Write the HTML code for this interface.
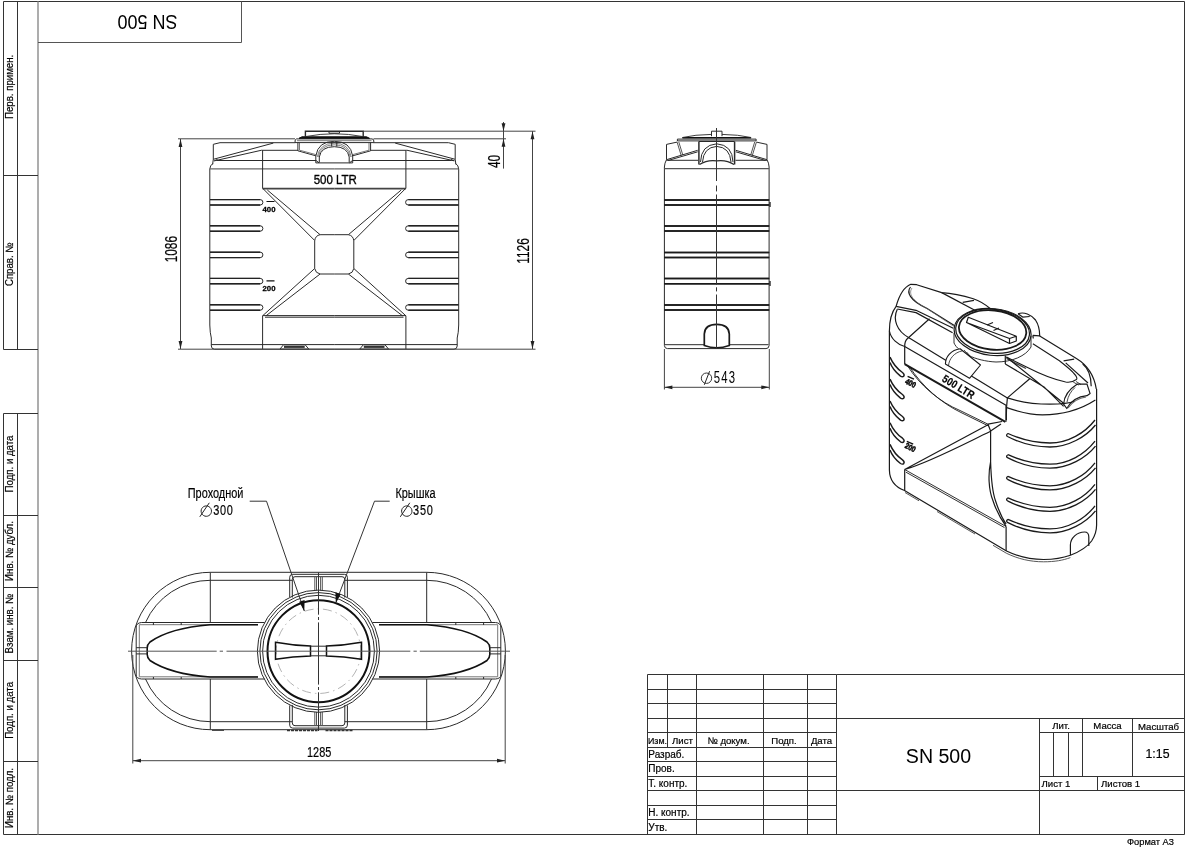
<!DOCTYPE html>
<html><head><meta charset="utf-8">
<style>
html,body{margin:0;padding:0;background:#fff;width:1200px;height:849px;overflow:hidden}
svg{display:block;will-change:transform}
text{font-family:"Liberation Sans",sans-serif;fill:#000;stroke:#000;stroke-width:0.2px}
</style></head><body>
<svg width="1200" height="849" viewBox="0 0 1200 849">
<g id="frame" fill="none" stroke="#333" stroke-width="1">
<path d="M3.5 1.5H1184.5V834.5H3.5"/>
<path d="M38 1.5V834.5" stroke="#999" stroke-width="1.6"/>
<path d="M17.5 1.5V349.5M3.5 175.5H38M3.5 349.5H38"/>
<path d="M17.5 413.5V834.5M3.5 413.5H38M3.5 515.5H38M3.5 587.5H38M3.5 660.5H38M3.5 761.5H38"/>
<path d="M3.5 1.5V349.5M3.5 413.5V834.5" />
<path d="M38 42.5H241.5V1.5" stroke="#555"/>
</g>
<g id="striptext" font-size="10.5">
<text transform="translate(13 119) rotate(-90) scale(0.92 1)">Перв. примен.</text>
<text transform="translate(13 264.2) rotate(-90) scale(0.92 1)" text-anchor="middle">Справ. №</text>
<text transform="translate(13 464) rotate(-90) scale(0.92 1)" text-anchor="middle">Подп. и дата</text>
<text transform="translate(13 551) rotate(-90) scale(0.92 1)" text-anchor="middle">Инв. № дубл.</text>
<text transform="translate(13 623.5) rotate(-90) scale(0.92 1)" text-anchor="middle">Взам. инв. №</text>
<text transform="translate(13 710.4) rotate(-90) scale(0.92 1)" text-anchor="middle">Подп. и дата</text>
<text transform="translate(13 798) rotate(-90) scale(0.92 1)" text-anchor="middle">Инв. № подл.</text>
</g>
<text transform="translate(147.4 21.6) rotate(180) scale(0.9 1)" font-size="20" text-anchor="middle" dominant-baseline="central" style="stroke-width:0">SN 500</text>
<text x="1174" y="845" font-size="9.3" text-anchor="end">Формат А3</text>
<g id="tblock" fill="none" stroke="#333" stroke-width="1"><path d="M647.5 674.5H836.5M647.5 689.5H836.5M647.5 703.5H836.5M647.5 718.5H836.5M647.5 732.5H836.5M647.5 747.5H836.5M647.5 761.5H836.5M647.5 776.5H836.5M647.5 790.5H836.5M647.5 805.5H836.5M647.5 819.5H836.5M836.5 674.5H1184.5M647.5 674.5V834.5M696.5 674.5V834.5M763.5 674.5V834.5M807.5 674.5V834.5M836.5 674.5V834.5M667.5 674.5V747.5M836.5 718.5H1184.5M836.5 790.5H1184.5M1039.5 718.5V834.5M1039.5 732.5H1184.5M1039.5 776.5H1184.5M1082.5 718.5V776.5M1132.5 718.5V776.5M1053.5 732.5V776.5M1068.5 732.5V776.5M1097.5 776.5V790.5"/></g>
<g id="tbtext" font-size="9.6">
<text x="648" y="743.5" textLength="19" lengthAdjust="spacingAndGlyphs">Изм.</text>
<text x="682.5" y="743.5" text-anchor="middle">Лист</text>
<text x="728.5" y="743.5" text-anchor="middle">№ докум.</text>
<text x="784" y="743.5" text-anchor="middle">Подп.</text>
<text x="821.5" y="743.5" text-anchor="middle">Дата</text>
<text x="648.3" y="757.8" font-size="10">Разраб.</text>
<text x="648.3" y="772" font-size="10">Пров.</text>
<text x="648.3" y="786.8" font-size="10">Т. контр.</text>
<text x="648.3" y="816.2" font-size="10">Н. контр.</text>
<text x="648.3" y="830.5" font-size="10">Утв.</text>
<text x="1061" y="729" text-anchor="middle">Лит.</text>
<text x="1107.5" y="729" text-anchor="middle">Масса</text>
<text x="1158.5" y="729.5" text-anchor="middle">Масштаб</text>
<text x="1157.5" y="757.8" font-size="12.3" text-anchor="middle">1:15</text>
<text x="1041.5" y="786.5">Лист 1</text>
<text x="1101" y="787">Листов 1</text>
<text x="938.5" y="763" font-size="19.6" text-anchor="middle" style="stroke-width:0">SN 500</text>
</g>
<!--FRONT--><g id="front" fill="none" stroke="#2a2a2a" stroke-width="1">
 <g id="fhalf">
  <!-- shoulder -->
  <path d="M295 142.7H220L213.3 144.3V159.3L212.6 164.5"/>
  <path d="M213.3 159.3L273.3 143.1M215.5 160.6L261.7 150.2" />
  <path d="M214 161L217.5 159.5" stroke-width="1.3"/>
  <path d="M261.7 150.4H298" stroke="#555" stroke-width="1.4"/>
  <path d="M217 160.5H316"/>
  <path d="M212.8 163.5Q210 165.5 209.8 169V325Q210 333 211.3 338V346Q211.5 349.2 214.5 349.2H334.25"/>
  <path d="M210 168.8H334.25" stroke="#666" stroke-width="1.3"/>
  <!-- ribs -->
  <path d="M210 199.6H260.2A2.7 2.7 0 0 1 260.2 205H210"/>
  <path d="M210 225.8H260.2A2.7 2.7 0 0 1 260.2 231.2H210"/>
  <path d="M210 252.2H260.2A2.7 2.7 0 0 1 260.2 257.6H210"/>
  <path d="M210 278.4H260.2A2.7 2.7 0 0 1 260.2 283.8H210"/>
  <path d="M210 304.8H260.2A2.7 2.7 0 0 1 260.2 310.2H210"/>
  <g stroke-width="1.4" stroke="#222">
  <path d="M210 205H260.2M210 231.2H260.2M210 257.6H260.2M210 283.8H260.2M210 310.2H260.2M210 199.6H260.2M210 225.8H260.2M210 252.2H260.2M210 278.4H260.2M210 304.8H260.2"/>
  </g>
  <!-- label band -->
  <path d="M262.6 150.4V188.3"/>
  <path d="M262.6 188.6H334.25" stroke="#444" stroke-width="1.8"/>
  <!-- diagonals upper -->
  <path d="M262.7 188.3L314.7 240.5M267.3 190L320.1 234.7"/>
  <!-- square -->
  <path d="M320.1 234.7H334.25M314.7 240.5V268.5M320.1 274H334.25M314.7 240.5Q315.5 235.5 320.1 234.7M314.7 268.5Q315.5 273.2 320.1 274"/>
  <!-- diagonals lower -->
  <path d="M314.7 268.5L262.6 315.8M320.1 274L266 315.8"/>
  <!-- bottom rect -->
  <path d="M262.6 315.8V349M262.6 315.6H334.25M265 317.2H334.25"/>
  <path d="M211.3 344.6H334.25"/>
  <!-- foot -->
  <path d="M280 349L283.5 344.8H305.2L308.7 349Z" fill="#fff"/><path d="M284 346.8H304.7" stroke="#333" stroke-width="2.2"/>
  
 </g>
 <use href="#fhalf" transform="matrix(-1 0 0 1 668.5 0)"/>
 <!-- cap box walls -->
 <path d="M297.9 142.5V150.8L315.8 155.8V162.9M370.6 142.5V150.8L352.7 155.8V162.9M315.8 162.9H352.7"/>
 <path d="M299.5 143V150.2L315.8 154.6M369 143V150.2L352.7 154.6" stroke="#777"/>
 <!-- handle arch -->
 <path d="M315.8 156Q318 141.3 334.25 141.3Q350.5 141.3 352.7 156" />
 <path d="M319.3 162.5V157Q321 146.7 334.25 146.7Q347.5 146.7 349.2 157V162.5" />
 <path d="M317.2 157Q319.5 143.2 334.25 143.2Q349 143.2 351.3 157M318.2 157Q320.5 144.8 334.25 144.8Q348 144.8 350.3 157" stroke="#666" stroke-width="0.8"/>
 <path d="M331.7 141.5V146.5M336.8 141.5V146.5"/>
 <path d="M316 160.5L319 162.8M352.5 160.5L349.5 162.8"/>
 <!-- flange -->
 <path d="M296.5 138.9H372Q373.8 139 373.8 141V142.6H295Q294.7 139 296.5 138.9Z" />
 <path d="M297 140.7H371.5" stroke="#777"/>
 <path d="M299 138.3L302 136.8H366.5L369.5 138.3Z" fill="#111" stroke="#111"/>
 <!-- lid -->
 <path d="M305.4 137V131.3H363.2V137" stroke-width="1.4"/>
 <path d="M329 131.3V133.2H339.5V131.3" />
 <path d="M306 136.5Q334.25 131 362.6 136.5" stroke-width="0.9"/>
 <!-- text -->
 <text x="335.3" y="183.9" font-size="13.4" text-anchor="middle" transform="translate(335.3 0) scale(0.86 1) translate(-335.3 0)" style="stroke-width:0.35px">500 LTR</text>
 <path d="M266.5 201.5H274.5M266.5 280.8H274.5" stroke="#111" stroke-width="1.2"/>
 <text x="269" y="211.6" font-size="7.4" font-weight="bold" text-anchor="middle" transform="translate(269 0) scale(1.05 1) translate(-269 0)" style="stroke-width:0.25px">400</text>
 <text x="269" y="291" font-size="7.4" font-weight="bold" text-anchor="middle" transform="translate(269 0) scale(1.05 1) translate(-269 0)" style="stroke-width:0.25px">200</text>
</g>
<g id="fdims" fill="none" stroke="#444" stroke-width="1">
 <path d="M178 138.8H295M373.5 138.8H506M363.5 131.2H535.5M178 349.2H535.5"/>
 <path d="M180.5 139V349M532.5 131.2V349M503.5 122V168.6"/>
 <g fill="#222" stroke="none">
  <path d="M180.5 139L178.6 147H182.4Z"/><path d="M180.5 349L178.6 341H182.4Z"/>
  <path d="M532.5 131.2L530.6 139.2H534.4Z"/><path d="M532.5 349L530.6 341H534.4Z"/>
  <path d="M503.5 131.2L501.6 123.2H505.4Z"/><path d="M503.5 138.8L501.6 146.8H505.4Z"/>
 </g>
</g>
<g id="fdimtext" style="stroke-width:0.1px">
 <text transform="translate(177 249.2) rotate(-90) scale(0.74 1)" font-size="16" text-anchor="middle">1086</text>
 <text transform="translate(528.5 251) rotate(-90) scale(0.74 1)" font-size="16" text-anchor="middle">1126</text>
 <text transform="translate(499.7 161.5) rotate(-90) scale(0.74 1)" font-size="16" text-anchor="middle">40</text>
</g>
<!--/FRONT-->
<!--SIDE--><g id="side" fill="none" stroke="#2a2a2a" stroke-width="1">
 <g id="shalf">
  <path d="M677.1 142.1L666.5 144.4V159.7Q664.6 163 664.4 167V345.5Q664.6 348.6 667.5 348.6H716.75"/>
  <path d="M666.5 159.7L697.7 150.3M668 160.5L697.7 151.8" />
  <path d="M677.1 142.1L681.2 155.5M678.8 142L682.8 155" stroke-width="0.8"/>
  <path d="M666.5 160.3H698"/>
  <path d="M664.4 168.6H716.75" stroke="#555" stroke-width="1.4"/>
  <path d="M698.9 141.6V164.5" stroke-width="1.5"/>
  <path d="M698.9 141.5H716.75"/>
  <path d="M700.5 162Q701 145 716.75 143.8M702.5 162Q703.5 147.3 716.75 146.4"/>
  <path d="M699.5 164.5Q707 159.5 716.75 160.8" stroke-width="1.2"/>
  <path d="M677.4 139.1H716.75M677.4 139.1V141M677.4 140.9H716.75"/>
  <path d="M682.4 137.7H716.75" stroke="#111" stroke-width="1.6"/>
  <path d="M682.4 137.5Q695 134.6 711.5 134.4" stroke-width="0.9"/>
  <path d="M664.4 199.9H769.3M664.4 205H769.3M664.4 225.9H769.3M664.4 231H769.3M664.4 252.4H769.3M664.4 257.5H769.3M664.4 278.6H769.3M664.4 283.7H769.3M664.4 305H769.3M664.4 310.1H769.3" stroke="#1a1a1a" stroke-width="1.5"/>
  <path d="M665 344.7H716.75"/>
 </g>
 <use href="#shalf" transform="matrix(-1 0 0 1 1433.5 0)"/>
 <path d="M711.5 136.2V131.2H722V136.2"/>
 <path d="M704.3 345.5V334Q704.8 324.4 716.75 324.4Q728.7 324.4 729.3 334V345.5Q716.75 350 704.3 345.5Z" stroke="#1a1a1a" stroke-width="1.7" fill="#fff"/>
 <path d="M716.5 128V181M716.5 185.5V191.4M716.5 194.5V284.6M716.5 287.3V291.4M716.5 294.5V349" stroke="#333"/>
 <path d="M770 202V207M770 281V286" stroke-width="1.4"/>
</g>
<g id="sdims" fill="none" stroke="#444" stroke-width="1">
 <path d="M664.4 349V389.5M769.3 349V389.5M664.4 387.3H769.3"/>
 <g fill="#222" stroke="none">
  <path d="M664.4 387.3L672.4 385.4V389.2Z"/><path d="M769.3 387.3L761.3 385.4V389.2Z"/>
 </g>
 <circle cx="706.5" cy="378.2" r="5.2" stroke="#333"/><path d="M704.3 384.8L709.6 371.2" stroke="#222"/>
</g>
<text transform="translate(725 383) scale(0.7 1)" font-size="16.2" text-anchor="middle" letter-spacing="1.6" style="stroke-width:0px">543</text>
<!--/SIDE-->
<!--PLAN--><g id="plan" fill="none" stroke="#2a2a2a" stroke-width="1">
 <!-- outer body -->
 <path d="M210.3 572.3H426.7A78.7 78.7 0 0 1 426.7 729.7H210.3A78.7 78.7 0 0 1 210.3 572.3Z"/>
 <path d="M210.3 580.3H292.3M344.7 580.3H426.7M210.3 721.7H292.3M344.7 721.7H426.7"/>
 <path d="M210.3 580.3A70.7 70.7 0 0 0 145.5 622.5M210.3 721.7A70.7 70.7 0 0 1 145.5 679M426.7 580.3A70.7 70.7 0 0 1 491.5 622.5M426.7 721.7A70.7 70.7 0 0 0 491.5 679"/>
 <path d="M210.3 572.3V622.5M210.3 679V729.7M426.7 572.3V622.5M426.7 679V729.7"/>
 <!-- bar -->
 <path d="M141.5 622.5H264.6M372.4 622.5H495.5M141.5 679H264.6M372.4 679H495.5"/>
 <path d="M141.5 622.5Q136.3 623 136.2 627V675Q136.3 678.5 141.5 679M495.5 622.5Q500.7 623 500.8 627V675Q500.7 678.5 495.5 679"/>
 <path d="M139.3 624.7H258M379 624.7H497.7M139.3 676.8H258M379 676.8H497.7M139.3 624.7V676.8M497.7 624.7V676.8" stroke="#777"/>
 <path d="M153.4 623V625M181.2 623V625M153.4 677V679M181.2 677V679M483.6 623V625M455.8 623V625M483.6 677V679M455.8 677V679"/>
 <!-- lens -->
 <path d="M258 624.8H210Q170 628 150 642Q147.2 644.5 147.2 648V654.5Q147.2 658 150 660.5Q170 674 210 677H258" stroke="#111" stroke-width="1.6"/>
 <path d="M379 624.8H427Q467 628 487 642Q489.8 644.5 489.8 648V654.5Q489.8 658 487 660.5Q467 674 427 677H379" stroke="#111" stroke-width="1.6"/>
 <path d="M136.2 647.7H147.2M136.2 653.9H147.2M489.8 647.7H500.8M489.8 653.9H500.8"/>
 <!-- tabs -->
 <path d="M289.7 597V577.3Q289.7 574.3 292.7 574.3H344.4Q347.4 574.3 347.4 577.3V597M292.3 597.5V579.5Q292.3 576.7 295 576.7H342Q344.8 576.7 344.8 579.5V597.5"/>
 <path d="M289.7 705.4V725.1Q289.7 728.1 292.7 728.1H344.4Q347.4 728.1 347.4 725.1V705.4M292.3 704.9V722.9Q292.3 725.7 295 725.7H342Q344.8 725.7 344.8 722.9V704.9"/>
 <path d="M314.8 576.7V590.5M316.5 576.7V590.5M320.6 576.7V590.5M322.3 576.7V590.5M314.8 725.7V712M316.5 725.7V712M320.6 725.7V712M322.3 725.7V712" stroke="#555"/>
 <!-- circles -->
 <circle cx="318.5" cy="651.2" r="61.1"/>
 <circle cx="318.5" cy="651.2" r="58.6"/>
 <circle cx="318.5" cy="651.2" r="55.9"/>
 <circle cx="318.5" cy="651.2" r="51" stroke="#111" stroke-width="2"/>
 <circle cx="318.5" cy="651.2" r="42.3" stroke="#aaa" stroke-width="0.9" stroke-dasharray="9 4 1.5 4"/>
 <!-- bow tie -->
 <path d="M275.5 642.3Q293 645.6 310.5 645.9V655.9Q293 656.2 275.5 659.3Z M361.5 642.3Q344 645.6 326.5 645.9V655.9Q344 656.2 361.5 659.3Z" stroke="#111" stroke-width="1.5"/>
 <path d="M310.5 646.2H326.5M310.5 655.8H326.5"/>
 <!-- feet -->
 <path d="M287 730.5H317.5M325.5 730.5H353" stroke="#333" stroke-width="1.6" stroke-dasharray="3 1"/><path d="M212 730.3H224" stroke="#444" stroke-width="1.3"/>
 <!-- centerlines -->
 <path d="M128 651.2H216.7M219.7 651.2H223M226.5 651.2H410.3M413.5 651.2H416.8M419.8 651.2H510" stroke="#555"/>
 <path d="M318.5 572.5V614.7M318.5 617V620M318.5 622.4V684.6M318.5 687V690M318.5 692.3V731" stroke="#333"/>
 <!-- leaders -->
 <path d="M249.7 501.2H266.5L304.3 611M389.7 501.2H374.5L335.8 602.9" stroke="#333"/>
 <path d="M304.3 611.2L299.2 601.7L304.6 600Z M335.8 603L335.4 592.3L340.7 594.3Z" fill="#111" stroke="none"/>
</g>
<g id="pdims" fill="none" stroke="#444" stroke-width="1">
 <path d="M132.8 655V763.5M505.2 655V763.5M132.8 760.7H505.2"/>
 <path d="M132.8 760.7L141 758.8V762.6Z M505.2 760.7L497 758.8V762.6Z" fill="#222" stroke="none"/>
 <path d="M206.3 505.9A5.2 5.2 0 1 1 206.29 505.9M199.8 516.8L209.3 502.8M406.8 505.9A5.2 5.2 0 1 1 406.79 505.9M400.3 516.8L409.8 502.8" stroke="#222"/>
</g>
<g style="stroke-width:0px">
 <text transform="translate(319.2 756.8) scale(0.74 1)" font-size="14.8" text-anchor="middle">1285</text>
 <text transform="translate(215.6 498.3) scale(0.74 1)" font-size="14.8" text-anchor="middle">Проходной</text>
 <text transform="translate(223.4 515.3) scale(0.74 1)" font-size="14.8" text-anchor="middle" letter-spacing="1">300</text>
 <text transform="translate(415.5 498.3) scale(0.74 1)" font-size="14.8" text-anchor="middle">Крышка</text>
 <text transform="translate(423.3 515.3) scale(0.74 1)" font-size="14.8" text-anchor="middle" letter-spacing="1">350</text>
</g>
<!--/PLAN-->
<!--ISO--><g id="iso" fill="none" stroke="#1a1a1a" stroke-width="1.2" stroke-linejoin="round">
 <!-- outer silhouette left + bottom + right -->
 <path d="M896.1 306.4C891 313 889.4 322 889.4 331V470C889.6 480 895 487 904.5 490.5L1006.5 551C1018 556.5 1030 559.5 1043.6 559.5C1055 559.5 1063 558 1070.4 555.3C1080 551.5 1088 546 1091.6 541C1095 536 1096.6 531 1096.6 525V389"/>
 <path d="M905 492.5L919 500.8M937 511.5L975 534M993 545.3L1006.5 553.3C1018 558.8 1030 561.8 1043.6 561.8C1055 561.8 1063 560.3 1070.4 557.6" stroke="#444" stroke-width="0.9"/>
 <!-- top shoulder contour -->
 <path d="M896.1 306.4C899 296 904 287 910.8 284.3L916.7 284.7L941.7 292.6C950 293 960 294.5 973.3 298.8C980 301 986 305 990.7 309"/>
 
 <path d="M962.7 302.3L974 300.3"/>
 <!-- ridge long line through lid -->
 <path d="M941.7 292.6L976.7 311.3"/>
 <!-- inner left pad -->
 <path d="M910.5 287C906.5 292 909 300 926.7 308.3L954.7 325.7" stroke-width="1.2"/>
 <path d="M912 288C908.5 293 911 300.5 927.7 309L954.7 327" stroke="#666" stroke-width="0.7"/>
 <!-- lower ridge double -->
 <path d="M896.1 306.4L916 310.3L953.3 328.3M897.3 309L916 312.6L952.6 332.8"/>
 <!-- body top-left curves -->
 <path d="M897.3 309.3C892.5 319 896.5 331 908.9 337.7L1007.4 397.9C1020 402 1035 404.2 1050 404.2C1062 404.2 1070 403 1075 401"/>
 <path d="M889.4 331C891 339 898 345 904.7 346.5"/>
 <path d="M929.5 318.8L907 339C905 341 904.7 344 904.7 346.5V364.2"/>
 <path d="M904.7 346.5L1006 405.3V421.8"/>
 <path d="M1006 407.4C1018 411.5 1030 414.8 1042.4 414.8C1060 414.8 1080 410 1095.4 400"/>
 <path d="M904.7 364.2L1005.4 421.8" stroke-width="2"/>
 
 <!-- lower face under label band -->
 <path d="M907 365C920 386 940 402 960 410.5L988 424.2M909 366C922 386.5 942 403.5 961 412.5L988.5 426" stroke-width="0.9"/>
 <path d="M988 424.2L1002 421.5M990.6 431V461.8C988 474 988.5 490 993 500.7C996 510 1000 518 1006.1 526.3M990.6 461.8C991 474 991.5 490 995.5 500.7C998.5 510 1002 518 1006.1 524"/>
 <path d="M988 424.2L990.6 431L1001 424"/>
 <path d="M904.7 469.5L988.5 424.5M904.7 469.5C930 462 960 446 990.6 431.2"/>
 <path d="M904.7 469.5V490.5M1006.1 526.5V551"/><path d="M904.7 469.5L1006.1 526.5M906 472.2L1004.5 527.6" stroke-width="0.9"/>
 
 <!-- left ribs -->
 <g stroke-width="1.45">
  <path d="M890 357.1C893 364 897.5 369 902.5 372.5Q905 374.5 903.7 376.2Q902.5 377.3 900.5 376.1C896 372.5 892 368 890 362.5"/>
  <path d="M890 379.1C893 386 897.5 391 902.5 394.5Q905 396.5 903.7 398.2Q902.5 399.3 900.5 398.1C896 394.5 892 390 890 384.5"/>
  <path d="M890 401C893 408 897.5 413 902.5 416.5Q905 418.5 903.7 420.2Q902.5 421.3 900.5 420.1C896 416.5 892 412 890 406.5"/>
  <path d="M890 422.7C893 429.7 897.5 434.7 902.5 438.2Q905 440.2 903.7 441.9Q902.5 443 900.5 441.8C896 438.2 892 433.7 890 428.2"/>
  <path d="M890 444.4C893 451.4 897.5 456.4 902.5 459.9Q905 461.9 903.7 463.6Q902.5 464.7 900.5 463.5C896 459.9 892 455.4 890 449.9"/>
 </g>
 <!-- right ribs -->
 <g stroke-width="1.3">
  <path d="M1008 433.5C1020 439 1035 443 1050 443C1068 443 1085 433 1095 420M1007.5 436.5C1020 443 1035 447 1050 447C1068 447 1086 437 1095.5 425M1008 433.5Q1005.5 435 1007.5 436.5"/>
  <path d="M1008 454.7C1020 460.2 1035 464.2 1050 464.2C1068 464.2 1085 454.2 1095 441.2M1007.5 457.7C1020 464.2 1035 468.2 1050 468.2C1068 468.2 1086 458.2 1095.5 446.2M1008 454.7Q1005.5 456.2 1007.5 457.7"/>
  <path d="M1008 476.3C1020 481.8 1035 485.8 1050 485.8C1068 485.8 1085 475.8 1095 462.8M1007.5 479.3C1020 485.8 1035 489.8 1050 489.8C1068 489.8 1086 479.8 1095.5 467.8M1008 476.3Q1005.5 477.8 1007.5 479.3"/>
  <path d="M1008 497.8C1020 503.3 1035 507.3 1050 507.3C1068 507.3 1085 497.3 1095 484.3M1007.5 500.8C1020 507.3 1035 511.3 1050 511.3C1068 511.3 1086 501.3 1095.5 489.3M1008 497.8Q1005.5 499.3 1007.5 500.8"/>
  <path d="M1008 519.4C1020 524.9 1035 528.9 1050 528.9C1068 528.9 1085 518.9 1095 505.9M1007.5 522.4C1020 528.9 1035 532.9 1050 532.9C1068 532.9 1086 522.9 1095.5 510.9M1008 519.4Q1005.5 520.9 1007.5 522.4"/>
 </g>
 <!-- outlet -->
 <path d="M1070.4 555V545C1070.4 538 1077 532 1084.6 532C1087 532 1088.8 534 1088.8 537V546" stroke-width="1.2"/>
 <!-- lid ring -->
 <ellipse cx="992.6" cy="332" rx="38.6" ry="23.4" transform="rotate(6 992.6 332)"/>
 <ellipse cx="992.6" cy="331.2" rx="37" ry="22" transform="rotate(6 992.6 331.2)"/>
 
 <ellipse cx="992.6" cy="330" rx="33.8" ry="19.6" transform="rotate(6 992.6 330)" stroke-width="1.8"/>
 <path d="M954 333V343C958 352 975 361 996 362C1012 362 1026 356 1031 347V336" stroke-width="0.9"/>
 <!-- bar on lid -->
 <path d="M968.3 317.3L1016.3 336.2V341L1009.5 343.5L966.5 322.5Z M1009.5 343.5V338.5L1016.3 336.2M966.5 322.5L1009.5 338.5" fill="#fff"/>
 <path d="M987 325L993 322.5M993.5 330.5L999 328" />
 <!-- front lug -->
 <path d="M945.4 364C945.5 357 951 350 960.1 348.8L980.5 365L969.5 378.3Z" fill="#fff" stroke-width="1.1"/>
 <path d="M948.5 365.8C949 359 954 352.5 962.5 350.8" stroke-width="0.8"/>
 <path d="M964 350L969 355.5M966.5 352L971.5 357.5" stroke-width="0.8"/>
 <!-- right ridge -->
 <path d="M1039.7 335.9L1076.4 358.6C1087 365 1094 375 1096.3 389"/>
 <path d="M1032.9 343.8L1059.4 360.8C1066 366 1071 370 1073.5 373C1076.5 376 1077.5 378.5 1076.4 379.5C1073 382 1069 382.5 1065.7 382C1055 380 1040 374 1026.5 367.1L1006.4 357" stroke-width="1.1"/>
 <path d="M1006.4 358.5L1026 368.5" stroke="#444" stroke-width="1.4"/>
 <path d="M1065.7 362.9L1088 383"/>
 <path d="M1082.7 364C1088 368 1091 376 1091.2 386.2"/>
 <path d="M1063.6 360.8L1074.2 359.2"/>
 <path d="M1005.3 355.5V364M1006.4 357L1063.6 403.2M1005.3 364L1044.5 387.3L1063.6 406.4"/>
 <path d="M1063.6 404.2C1064 398 1068 390 1077.4 384.1L1087 384.1L1090.1 393.6L1087 395.7C1078 396.5 1071 401 1066.8 408.5Z"/><path d="M1086 397C1078 398 1072 402.5 1068 408" stroke="#666" stroke-width="1.2"/>
 <path d="M1067 402C1068 396 1071 391 1075 387.5" stroke-width="0.8"/>
 <path d="M1073.2 382L1078.5 385.1M1076 381.5L1081 384.5" stroke-width="0.8"/>
 <path d="M1018 313.8C1024 311.5 1031 314.5 1035.5 320C1038.5 324.5 1039.7 330 1039.7 335.9L1032.8 335.3M1018 313.8L1022.7 317.1L1029.7 316.5M1032.8 335.3L1033.3 338.5"/>
 <path d="M1029.7 378.8L1007.4 397.9C1006.5 405 1006.2 412 1006.4 420"/>
</g>
<g id="isotext" style="stroke-width:0px">
 <text transform="translate(956.5 390) rotate(31.5) scale(0.85 1)" font-size="11" font-weight="bold" text-anchor="middle">500 LTR</text>
 <text transform="translate(909.4 385.6) rotate(26) scale(0.82 1)" font-size="8" font-weight="bold" text-anchor="middle" style="stroke-width:0.5px">400</text>
 <text transform="translate(909.2 450) rotate(26) scale(0.82 1)" font-size="8" font-weight="bold" text-anchor="middle" style="stroke-width:0.5px">200</text>
 <path d="M907.6 376.4L914 379.2M906.8 441.4L913.2 444.2" stroke="#111" stroke-width="1.3"/>
</g>
<!--/ISO-->
</svg>
</body></html>
